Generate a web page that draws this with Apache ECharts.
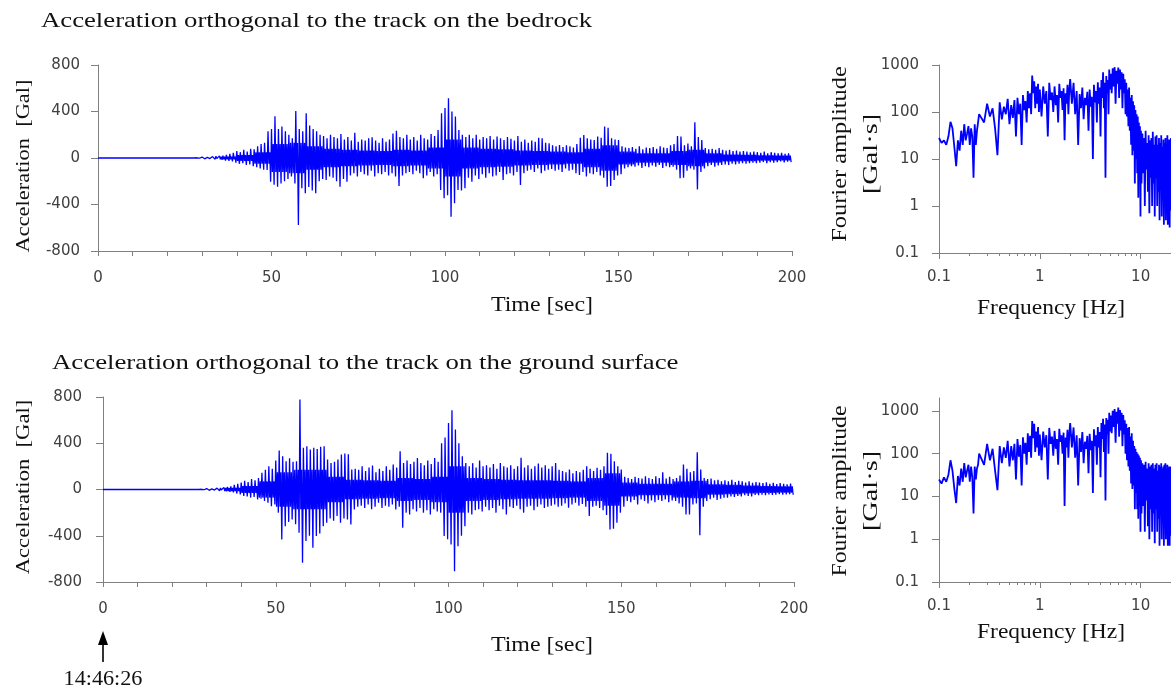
<!DOCTYPE html>
<html><head><meta charset="utf-8">
<script src="https://cdn.jsdelivr.net/npm/echarts@6/dist/echarts.min.js"></script>
<style>html,body{margin:0;padding:0;background:#fff}#c{width:1171px;height:693px}</style>
</head><body><div id="c"></div>
<script>
// ---- data ----
const timeLabels = [0, 50, 100, 150, 200];
const fourierTicks = [0.1, 1, 10, 100, 1000];
const freqLabels = [0.1, 1, 10];
const freqMinorTicks = [0.2,0.3,0.4,0.5,0.6,0.7,0.8,0.9,2,3,4,5,6,7,8,9,20];

// per-second peak (positive) and trough (magnitude of negative) values, t = 0..199 s [Gal]
const bedrockUpper = [
0,0,0,0,0,0,0,0,0,0, 0,0,0,0,0,0,0,0,0,0, 0,0,0,0,0,0,0,0,5,7,
8,6,10,12,15,18,20,28,35,45, 60,50,70,55,80,75,100,120,130,230,
250,360,250,270,230,200,170,405,250,230, 385,280,250,230,200,190,170,200,180,170,
207,160,180,150,218,140,160,150,170,178, 150,130,170,140,160,210,235,180,170,200,
160,180,150,200,170,160,207,190,240,385, 430,514,400,356,241,200,180,200,170,200,
160,180,170,190,160,185,170,155,180,165, 150,190,140,160,130,150,140,175,170,130,
126,110,100,112,95,110,100,90,120,175, 198,170,160,155,185,175,270,260,170,160,
155,100,90,85,95,80,100,75,90,85, 95,80,100,90,85,110,120,190,185,110,
125,100,307,180,155,85,75,80,70,85, 70,65,70,60,65,55,60,55,50,55,
50,45,55,40,50,45,40,45,35,40];
const bedrockLower = [
0,0,0,0,0,0,0,0,0,0, 0,0,0,0,0,0,0,0,0,0, 0,0,0,0,0,0,0,0,5,6,
7,8,9,10,14,16,22,25,30,40, 50,45,60,55,70,80,90,100,103,204,
230,247,220,200,180,160,220,577,260,304, 250,280,304,200,180,190,160,170,200,247,
180,204,150,130,160,120,140,150,110,160, 130,140,120,150,130,160,241,150,130,120,
140,110,130,175,150,120,160,140,275,347, 320,505,390,275,280,260,170,204,150,180,
140,170,130,160,150,120,190,140,130,150, 120,232,130,110,100,120,90,130,110,100,
95,110,100,120,90,110,100,130,146,120, 160,130,140,120,150,170,247,240,190,150,
140,90,80,70,75,65,85,70,80,65, 75,60,85,70,80,75,100,175,170,110,
90,100,270,120,90,70,60,75,65,60, 55,60,50,55,50,45,50,45,40,45,
40,35,45,35,40,35,30,38,32,35];
// half-width of the dense dark core, per 5-second window [Gal]
const bedrockCore = [0,0,0,0,0,2,5,12,25,50, 120,130,100,80,70,65,60,70,65,90,
  160,90,80,75,65,60,55,50,80,110, 55,40,40,60,70,40,30,28,22,20];

const surfaceUpper = [
0,0,0,0,0,0,0,0,0,0, 0,0,0,0,0,0,0,0,0,0, 0,0,0,0,0,0,0,0,4,6,
8,7,10,12,14,18,22,28,40,50, 60,75,65,90,80,100,144,170,200,180,
250,337,288,245,270,240,245,778,360,375, 345,360,350,370,374,260,230,240,260,302,
311,305,173,180,170,200,160,190,207,150, 180,160,200,170,216,190,331,230,250,220,
240,273,230,210,250,220,273,240,400,450, 576,686,518,400,288,230,200,228,190,250,
200,210,190,220,180,230,200,190,210,180, 200,274,190,210,180,200,225,190,210,180,
200,230,170,160,150,173,140,160,150,170, 200,180,160,187,170,200,317,310,245,200,
173,110,100,90,110,100,95,115,100,90, 115,100,150,95,110,90,100,120,216,180,
150,160,323,173,100,90,95,80,85,72, 80,70,85,65,75,70,60,72,58,65,
60,55,63,50,58,48,55,50,45,52];
const surfaceLower = [
0,0,0,0,0,0,0,0,0,0, 0,0,0,0,0,0,0,0,0,0, 0,0,0,0,0,0,0,0,4,5,
7,8,9,11,13,16,20,25,35,43, 55,60,70,65,86,80,100,115,144,130,
200,432,317,280,259,300,375,634,446,400, 504,403,380,317,288,250,270,230,288,250,
260,302,173,150,140,160,130,170,150,115, 160,140,150,130,173,150,331,200,216,170,
190,160,200,180,216,170,190,200,403,430, 475,706,490,400,317,200,216,180,170,190,
150,180,160,200,140,170,216,150,160,140, 170,200,150,140,180,150,130,160,150,140,
130,150,140,120,158,130,115,140,125,150, 230,150,140,160,180,220,345,340,288,200,
150,100,110,90,130,86,100,120,95,110, 90,100,86,110,95,100,120,150,216,216,
130,120,395,150,100,85,72,90,80,72, 70,60,65,55,60,50,55,60,48,50,
45,50,43,48,45,40,45,42,40,45];
const surfaceCore = [0,0,0,0,0,2,5,14,30,70, 150,170,170,110,85,80,75,100,90,110,
  200,100,90,85,80,80,75,70,100,140, 60,50,50,70,75,45,40,35,30,28];

// Fourier spectra [Gal·s] at these frequencies [Hz]
const freqHz = [
0.100,0.106,0.112,0.118,0.124,0.130,0.136,0.142,0.148,0.154,0.160,0.166,0.172,0.178,0.184,0.190,0.196,0.202,0.208,0.214,0.220,0.226,0.232,0.238,0.244,0.250,
0.26,0.28,0.30,0.32,0.34,0.36,0.38,0.40,0.42,0.44,0.46,0.48,0.50,0.52,0.54,0.56,0.58,0.60,0.62,0.64,0.66,0.68,0.70,0.72,0.74,0.76,0.78,0.80,0.82,0.84,0.86,0.88,0.90,0.92,0.94,0.96,0.98,1.00,
1.04,1.08,1.12,1.16,1.20,1.24,1.28,1.32,1.36,1.40,1.44,1.48,1.52,1.56,1.60,1.64,1.68,1.72,1.76,1.80,1.84,1.88,1.92,1.96,2.00,
2.08,2.16,2.24,2.32,2.40,2.48,2.56,2.64,2.72,2.80,2.88,2.96,3.04,3.12,3.20,3.28,3.36,3.44,3.52,3.60,3.68,3.76,3.84,3.92,4.00,4.08,4.16,4.24,4.32,4.40,4.48,4.56,4.64,4.72,4.80,4.88,4.96,5.04,
5.16,5.28,5.40,5.52,5.64,5.76,5.88,6.00,6.12,6.24,6.36,6.48,6.60,6.72,6.84,6.96,7.08,7.20,7.32,7.44,7.56,7.68,7.80,7.92,8.04,8.16,8.28,8.40,8.52,8.64,8.76,8.88,9.00,9.12,9.24,9.36,9.48,9.60,9.72,9.84,9.96,10.08,
10.2,10.4,10.6,10.8,11.0,11.2,11.4,11.6,11.8,12.0,12.2,12.4,12.6,12.8,13.0,13.2,13.4,13.6,13.8,14.0,14.2,14.4,14.6,14.8,15.0,15.2,15.4,15.6,15.8,16.0,16.2,16.4,16.6,16.8,17.0,17.2,17.4,17.6,17.8,18.0,18.2,18.4,18.6,18.8,19.0,19.2,19.4,19.6,19.8,20.0];
const bedrockFourier = [
28,22,25,20,30,62,45,18,7,25,15,40,20,55,25,35,50,20,45,30,4,55,20,40,60,90,
95,60,150,80,120,45,12,160,70,130,90,190,55,140,75,180,30,200,90,150,20,230,110,170,60,280,120,250,90,600,250,450,120,350,150,400,100,300,
80,350,150,280,30,420,180,260,100,350,140,230,60,400,200,280,110,320,25,250,150,380,90,300,500,
150,420,90,280,20,240,120,330,70,200,140,270,40,300,130,210,10,380,160,280,60,430,150,330,30,480,200,700,120,420,4,580,250,480,90,800,300,650,
250,850,350,900,150,750,400,880,200,800,300,700,120,650,250,500,90,420,80,300,50,330,40,200,20,230,12,170,15,140,3,110,10,90,5,80,1.5,60,6,50,0.6,40,
3,35,5,28,1,40,6,22,2,32,0.7,25,4,28,1,38,3,20,0.6,30,4,32,1,20,2,28,0.5,22,3,32,0.6,18,2,26,0.4,22,1.5,28,0.5,20,2,32,0.4,18,1,26,0.35,22,0.8,28];
const surfaceFourier = [
25,20,28,22,32,70,40,15,7,30,18,45,22,60,28,40,55,22,50,28,4,50,25,45,55,100,
100,55,170,70,130,40,14,150,60,140,80,200,50,150,70,170,25,220,85,160,18,240,100,180,55,300,110,260,80,580,230,500,110,330,140,420,90,280,
70,330,140,270,25,400,170,250,90,340,130,220,55,380,190,270,100,310,6,240,140,360,80,290,520,
140,410,80,270,18,230,110,320,60,190,130,260,35,290,120,200,12,370,150,270,55,420,140,320,28,520,220,650,110,480,8,680,280,620,100,900,330,780,
300,1000,420,1100,180,950,500,1200,250,1050,350,900,150,800,280,600,100,500,70,400,50,420,40,250,20,300,15,200,18,150,5,130,12,110,5,100,3,90,6,80,1.5,70,
4,60,6,55,1.5,65,8,45,2,60,1,50,5,55,1.5,60,4,45,0.8,55,5,60,1.5,40,3,55,0.7,50,4,60,1,45,2.5,50,0.7,55,2,60,1,45,3,55,0.7,40,1.5,50,0.7,45,1.2,50];

// ---- build ----
function wave(up, lo, core) {
  const d = [];
  for (let i = 0; i < up.length; i++) {
    const c = core[Math.floor(i / 5)];
    d.push([i, up[i]]);
    d.push([i + 0.25, -Math.min(c, lo[i])]);
    d.push([i + 0.5, Math.min(c, up[i])]);
    d.push([i + 0.75, -lo[i]]);
  }
  return d;
}
function spec(f, a) { return f.map((v, i) => [v, a[i]]).filter(p => p[1] != null); }
const numFmt = v => String(+Number(v).toPrecision(6));

const AX = '#808080';
const LBL = {color: '#404040', fontFamily: 'DejaVu Sans', fontSize: 15};
const SERIF = '"Liberation Serif", "Times New Roman", serif';

function timeX(grid) {
  return {gridIndex: grid, type: 'value', min: 0, max: 200, interval: 10,
    axisLine: {show: true, onZero: false, lineStyle: {color: AX, width: 1}},
    axisTick: {show: true, length: 5, lineStyle: {color: AX}},
    axisLabel: Object.assign({}, LBL, {margin: 20, formatter: v => timeLabels.indexOf(v) >= 0 ? String(v) : ''}),
    splitLine: {show: false}};
}
function accY(grid, margin) {
  return {gridIndex: grid, type: 'value', min: -800, max: 800, interval: 400,
    axisLine: {show: true, onZero: false, lineStyle: {color: AX, width: 1}},
    axisTick: {show: true, length: 7, lineStyle: {color: AX}},
    axisLabel: Object.assign({}, LBL, {margin: margin}),
    splitLine: {show: false}};
}
function freqX(grid) {
  return {gridIndex: grid, type: 'log', logBase: 10, min: 0.1, max: 20,
    axisLine: {show: true, onZero: false, lineStyle: {color: AX, width: 1}},
    axisTick: {show: true, length: 6, customValues: freqLabels, lineStyle: {color: AX}},
    axisLabel: Object.assign({}, LBL, {margin: 17, customValues: freqLabels, formatter: numFmt}),
    splitLine: {show: false}, minorTick: {show: false}};
}
function freqMinorX(grid) {
  return {gridIndex: grid, type: 'log', logBase: 10, min: 0.1, max: 20, position: 'bottom', offset: 0,
    axisLine: {show: false},
    axisTick: {show: true, length: 3, customValues: freqMinorTicks, lineStyle: {color: AX}},
    axisLabel: {show: false}, splitLine: {show: false}};
}
function fourierY(grid, max) {
  return {gridIndex: grid, type: 'log', logBase: 10, min: 0.1, max: max,
    axisLine: {show: true, onZero: false, lineStyle: {color: AX, width: 1}},
    axisTick: {show: true, length: 7, customValues: fourierTicks, lineStyle: {color: AX}},
    axisLabel: Object.assign({}, LBL, {margin: 20, customValues: fourierTicks, formatter: numFmt}),
    splitLine: {show: false}};
}
const LINE = {type: 'line', symbol: 'none', showSymbol: false, silent: true, animation: false,
  lineStyle: {color: '#0000ff', width: 1.3}};
const SPEC = {type: 'line', symbol: 'none', showSymbol: false, silent: true, animation: false,
  lineStyle: {color: '#0000ff', width: 1.8}};

const chart = echarts.init(document.getElementById('c'), null, {renderer: 'canvas'});
chart.setOption({
  backgroundColor: '#ffffff',
  animation: false,
  grid: [
    {left: 98, top: 65, width: 694, height: 186},
    {left: 939, top: 65, width: 232, height: 188},
    {left: 103, top: 397, width: 691, height: 185},
    {left: 939, top: 398, width: 232, height: 184}
  ],
  xAxis: [timeX(0), freqX(1), freqMinorX(1), timeX(2), freqX(3), freqMinorX(3)],
  yAxis: [accY(0, 18), fourierY(1, 1000), accY(2, 21), fourierY(3, 2000)],
  series: [
    Object.assign({}, LINE, {name: 'bedrock acceleration', xAxisIndex: 0, yAxisIndex: 0, data: wave(bedrockUpper, bedrockLower, bedrockCore)}),
    Object.assign({}, SPEC, {name: 'bedrock Fourier', xAxisIndex: 1, yAxisIndex: 1, data: spec(freqHz, bedrockFourier)}),
    Object.assign({}, LINE, {name: 'surface acceleration', xAxisIndex: 3, yAxisIndex: 2, data: wave(surfaceUpper, surfaceLower, surfaceCore)}),
    Object.assign({}, SPEC, {name: 'surface Fourier', xAxisIndex: 4, yAxisIndex: 3, data: spec(freqHz, surfaceFourier)})
  ]
});

function txt(text, x, y, size, sx, rot, align) {
  return {type: 'text', x: x, y: y, scaleX: sx, rotation: rot || 0, silent: true,
    style: {text: text, font: size + 'px ' + SERIF, fill: '#111', textAlign: align || 'center', textVerticalAlign: 'middle'}};
}
const R = Math.PI / 2;
const x0 = chart.convertToPixel({xAxisIndex: 3}, 0);
chart.setOption({graphic: [
  txt('Acceleration orthogonal to the track on the bedrock', 41, 21, 22, 1.214, 0, 'left'),
  txt('Acceleration orthogonal to the track on the ground surface', 52, 363, 22, 1.218, 0, 'left'),
  txt('Acceleration  [Gal]', 24, 166, 19, 1.18, R),
  txt('Acceleration  [Gal]', 24, 487, 19, 1.19, R),
  txt('Time [sec]', 542, 305, 21, 1.14, 0),
  txt('Time [sec]', 542, 645, 21, 1.14, 0),
  txt('Frequency [Hz]', 1051, 308, 21, 1.118, 0),
  txt('Frequency [Hz]', 1051, 632, 21, 1.118, 0),
  txt('Fourier amplitude', 841, 154, 20.5, 1.19, R),
  txt('[Gal·s]', 872, 154, 20.5, 1.38, R),
  txt('Fourier amplitude', 841, 491, 20.5, 1.16, R),
  txt('[Gal·s]', 872, 491, 20.5, 1.38, R),
  txt('14:46:26', x0, 680, 20, 1.11, 0),
  {type: 'line', silent: true, shape: {x1: x0, y1: 643, x2: x0, y2: 662}, style: {stroke: '#000', lineWidth: 1.6}},
  {type: 'polygon', silent: true, shape: {points: [[x0, 631], [x0 - 5, 645], [x0 + 5, 645]]}, style: {fill: '#000'}}
]});
</script>
</body></html>
